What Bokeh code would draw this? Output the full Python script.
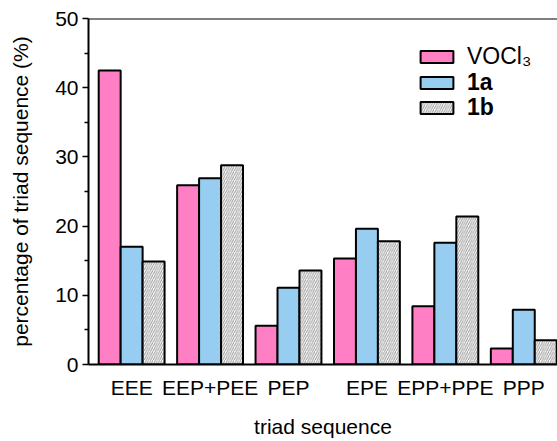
import numpy as np
from bokeh.plotting import figure
from bokeh.models import Range1d, FixedTicker, Legend, LegendItem, Span
from bokeh.embed import file_html
from bokeh.resources import INLINE

categories = ["EEE", "EEP+PEE", "PEP", "EPE", "EPP+PPE", "PPP"]
vocl3 = [42.5, 25.9, 5.6, 15.3, 8.4, 2.3]
s1a = [17.0, 26.9, 11.1, 19.6, 17.6, 7.9]
s1b = [14.9, 28.8, 13.6, 17.8, 21.4, 3.5]

FONT = "Liberation Sans"
x = np.arange(len(categories))
w = 0.28

p = figure(width=557, height=441, output_backend="svg", toolbar_location=None,
           x_range=Range1d(-0.55, 5.43), y_range=Range1d(0, 50),
           min_border_left=88, min_border_right=0, min_border_top=18, min_border_bottom=77)
p.outline_line_color = None
p.grid.grid_line_color = None
p.background_fill_color = "white"

r1 = p.vbar(x=x - w, top=vocl3, width=w, bottom=0, fill_color="#FF7FC4", line_color="black", line_width=2)
r2 = p.vbar(x=x, top=s1a, width=w, bottom=0, fill_color="#96CDF1", line_color="black", line_width=2)
r3 = p.vbar(x=x + w, top=s1b, width=w, bottom=0, fill_color="white", line_color="black", line_width=2,
            hatch_pattern="/", hatch_color="#9a9a9a", hatch_scale=4.5, hatch_weight=1)

p.add_layout(Span(location=50, dimension="width", line_color="black", line_width=2))

xa = p.xaxis[0]
xa.ticker = FixedTicker(ticks=list(x))
xa.major_label_overrides = {int(i): c for i, c in zip(x, categories)}
xa.major_tick_line_color = None
xa.minor_tick_line_color = None
xa.axis_line_width = 2
xa.major_label_standoff = 5
xa.axis_label = "triad sequence"
xa.axis_label_standoff = 13
xa.axis_label_text_baseline = "middle"

ya = p.yaxis[0]
ya.ticker = FixedTicker(ticks=[0, 10, 20, 30, 40, 50], minor_ticks=[5, 15, 25, 35, 45])
ya.axis_line_width = 2
ya.major_tick_out = 6
ya.major_tick_in = 0
ya.minor_tick_out = 4
ya.minor_tick_in = 0
ya.major_tick_line_width = 1.5
ya.minor_tick_line_width = 1.5
ya.major_label_standoff = 4
ya.axis_label = "percentage of triad sequence (%)"
ya.axis_label_standoff = 20

for ax in (xa, ya):
    ax.major_label_text_font = FONT
    ax.major_label_text_font_size = "21px"
    ax.major_label_text_color = "black"
    ax.axis_label_text_font = FONT
    ax.axis_label_text_font_size = "21px"
    ax.axis_label_text_font_style = "normal"
    ax.axis_label_text_color = "black"
    ax.axis_line_color = "black"

def make_legend(label, r, loc, style, size):
    lg = Legend(items=[LegendItem(label=label, renderers=[r])], location=loc, orientation="vertical",
                glyph_width=41, glyph_height=15, label_height=15, spacing=0,
                label_standoff=10, padding=0, margin=0,
                border_line_color=None, background_fill_alpha=0,
                label_text_font=FONT, label_text_font_size=size,
                label_text_font_style=style, label_text_color="black")
    return lg

p.add_layout(make_legend("VOCl\u2083", r1, (328, 294), "normal", "23px"))
p.add_layout(make_legend("1a", r2, (328, 268), "bold", "23px"))
p.add_layout(make_legend("1b", r3, (328, 243), "bold", "23px"))

open("out.html", "w").write(file_html(p, INLINE))
